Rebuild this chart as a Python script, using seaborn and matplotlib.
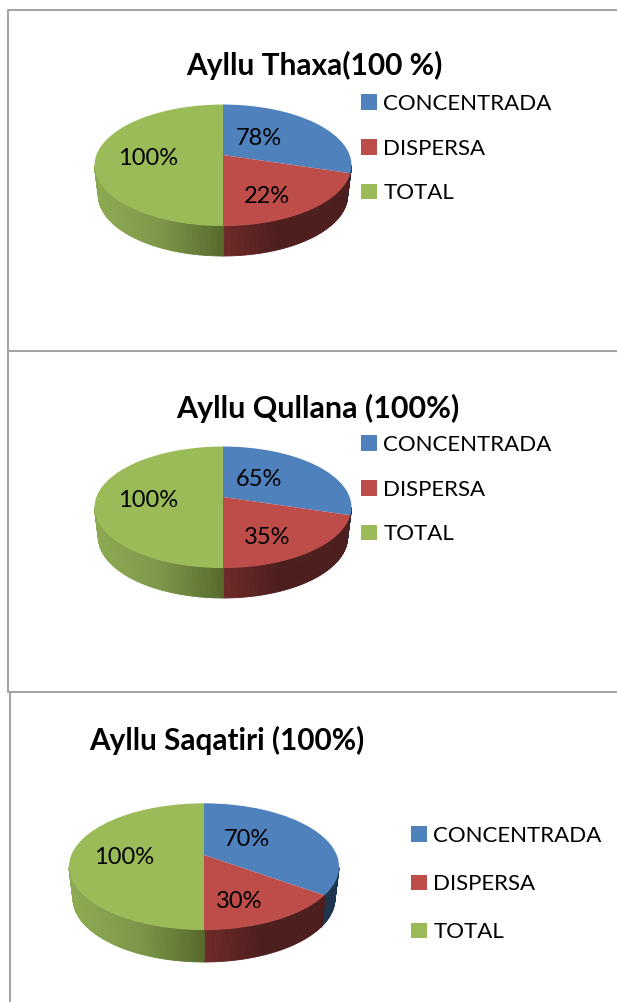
import numpy as np
import matplotlib
matplotlib.use("Agg")
import matplotlib.pyplot as plt
from matplotlib.colors import LinearSegmentedColormap
from matplotlib.transforms import Transform
import seaborn as sns

categories = ["CONCENTRADA", "DISPERSA", "TOTAL"]

thaxa_title = "Ayllu Thaxa(100 %)"
thaxa_values = [59.5, 40.5, 100]
thaxa_labels = ["78%", "22%", "100%"]

qullana_title = "Ayllu Qullana (100%)"
qullana_values = [59.5, 40.5, 100]
qullana_labels = ["65%", "35%", "100%"]

saqatiri_title = "Ayllu Saqatiri (100%)"
saqatiri_values = [70, 30, 100]
saqatiri_labels = ["70%", "30%", "100%"]

W, H = 617, 1002
top_colors = sns.color_palette(["#4F81BD", "#BE4D4A", "#9BBB59"])

# rim shading runs left to right across the whole pie
rim_maps = [
    LinearSegmentedColormap.from_list("blue", ["#1F3650", "#1F3650"]),
    LinearSegmentedColormap.from_list("red", [(0, "#6E2A28"), (0.5, "#6E2A28"), (0.72, "#4C1E1D"), (1, "#4C1E1D")]),
    LinearSegmentedColormap.from_list("green", [(0, "#8DAA52"), (0.25, "#7C9648"), (0.5, "#57692D"), (1, "#57692D")]),
]


class Tilt(Transform):
    # unit circle to the screen, far side smaller
    input_dims = 2
    output_dims = 2

    def __init__(self, cx, cy, k, sx, sy):
        super().__init__()
        self.cx, self.cy, self.k, self.sx, self.sy = cx, cy, k, sx, sy

    def transform_non_affine(self, values):
        values = np.asarray(values)
        d = 1 + self.k * values[:, 1]
        return np.column_stack([self.cx + self.sx * values[:, 0] / d, self.cy - self.sy * values[:, 1] / d])


def draw_panel(values, labels, title, g):
    ax = fig.add_axes([0, 0, 1, 1], label=title)
    ax.patch.set_alpha(0)
    wedges, _ = ax.pie(values, colors=top_colors, startangle=90, counterclock=False,
                       radius=1, wedgeprops={"linewidth": 0})
    ax.set_aspect("auto")
    ax.set_xlim(0, W)
    ax.set_ylim(H, 0)
    ax.axis("off")

    tilt = Tilt(g["cx"], g["cy"], g["k"], g["sx"], g["sy"])
    width = 2 * g["sx"]
    for wedge, rim in zip(wedges, rim_maps):
        wedge.set_transform(tilt + ax.transData)
        wedge.set_zorder(3)
        # only the front of the rim shows
        t = np.radians(np.arange(wedge.theta1, wedge.theta2 + 1, 1.0))
        t = np.append(t, np.radians(wedge.theta2))
        px, py = np.cos(t), np.sin(t)
        keep = py <= -g["k"]
        if keep.sum() < 2:
            continue
        pts = tilt.transform_non_affine(np.column_stack([px[keep], py[keep]]))
        low_x = g["cx"] + (pts[:, 0] - g["cx"]) * g["shrink"]
        low_y = pts[:, 1] + g["depth"]
        for i in range(len(pts) - 1):
            color = rim(np.clip((pts[i, 0] - g["cx"] + g["sx"]) / width, 0, 1))
            ax.fill([pts[i, 0], pts[i + 1, 0], low_x[i + 1], low_x[i]],
                    [pts[i, 1], pts[i + 1, 1], low_y[i + 1], low_y[i]],
                    color=color, linewidth=0.6, zorder=2)

    for text, pos in zip(labels, g["label_pos"]):
        ax.text(pos[0], pos[1], text, ha="center", va="center", fontsize=17, color="black", zorder=5)
    ax.text(g["title_pos"][0], g["title_pos"][1], title, ha="center", va="center",
            fontsize=g["title_size"], fontweight="bold", color="black")

    ax.legend(wedges, categories, loc="upper left", bbox_to_anchor=g["legend_pos"], bbox_transform=ax.transData,
              frameon=False, fontsize=16, borderpad=0, borderaxespad=0, handlelength=0.7, handleheight=0.7,
              handletextpad=0.3, labelspacing=g["legend_gap"], labelcolor="black")


sns.set_theme(style="white")
plt.rcParams["font.family"] = ["Lato", "DejaVu Sans"]

fig = plt.figure(figsize=(W / 100, H / 100), dpi=100, facecolor="white")

frame = fig.add_axes([0, 0, 1, 1], label="frames")
frame.set_xlim(0, W)
frame.set_ylim(H, 0)
frame.axis("off")
border = {"color": "#A3A3A3", "linewidth": 1.5}
frame.plot([W, 8, 8, W], [10, 10, 351, 351], **border)
frame.plot([8, 8, W], [351, 692, 692], **border)
frame.plot([10, 10], [692, H], **border)

thaxa_geom = {"cx": 223, "cy": 155, "k": 0.169, "sx": 126.6, "sy": 59, "depth": 30, "shrink": 0.97,
              "label_pos": [(259, 138), (267, 196), (148, 158)], "title_pos": (314.5, 65), "title_size": 21.5,
              "legend_pos": (361, 94), "legend_gap": 1.11}
qullana_geom = {"cx": 223, "cy": 497, "k": 0.169, "sx": 126.6, "sy": 59, "depth": 30, "shrink": 0.97,
                "label_pos": [(259, 480), (267, 538), (148, 500)], "title_pos": (317.5, 408), "title_size": 21.9,
                "legend_pos": (361, 435), "legend_gap": 1.11}
saqatiri_geom = {"cx": 204, "cy": 855, "k": 0.184, "sx": 132.7, "sy": 61.2, "depth": 32, "shrink": 0.97,
                 "label_pos": [(247, 839), (239, 902), (124, 858)], "title_pos": (227, 740), "title_size": 21.4,
                 "legend_pos": (411, 826), "legend_gap": 1.27}

draw_panel(thaxa_values, thaxa_labels, thaxa_title, thaxa_geom)
draw_panel(qullana_values, qullana_labels, qullana_title, qullana_geom)
draw_panel(saqatiri_values, saqatiri_labels, saqatiri_title, saqatiri_geom)

fig.savefig("out.png", dpi=100, facecolor="white")
